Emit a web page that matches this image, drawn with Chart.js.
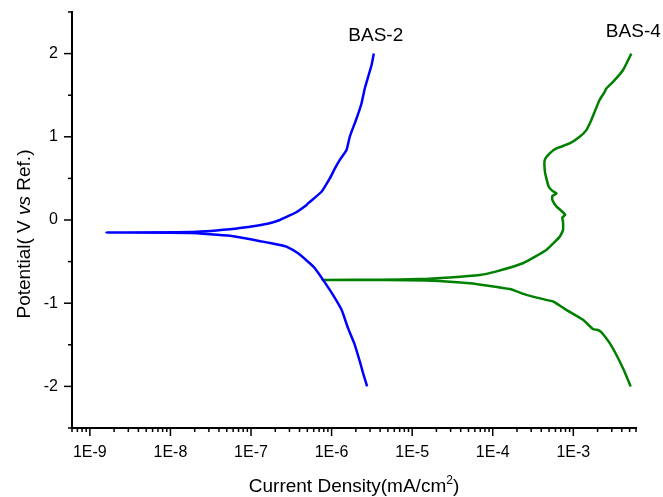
<!DOCTYPE html>
<html>
<head>
<meta charset="utf-8">
<script src="https://cdn.jsdelivr.net/npm/chart.js@4"></script>
<style>
  html, body { margin: 0; padding: 0; background: #fff; }
  #wrap { width: 663px; height: 497px; }
</style>
</head>
<body>
<div id="wrap"><canvas id="c" width="663" height="497"></canvas></div>
<script>
// ---- Data ----
const seriesNames = ['BAS-2', 'BAS-4'];

// BAS-2: cathodic branch (from -2 V upward), corrosion point, anodic branch
const bas2Current = [
  2.76e-6, 2.46e-6, 2.24e-6, 1.94e-6, 1.60e-6, 1.33e-6, 1.04e-6, 7.84e-7, 6.20e-7, 5.36e-7,
  3.84e-7, 2.75e-7, 2.28e-7, 1.40e-7, 5.50e-8, 1.74e-8,
  1.60e-9,
  1.74e-8, 5.50e-8, 9.70e-8, 1.17e-7, 1.70e-7, 2.28e-7, 2.50e-7, 3.60e-7, 4.90e-7, 5.10e-7, 7.50e-7, 9.50e-7,
  1.10e-6, 1.26e-6, 1.53e-6, 1.68e-6, 2.04e-6, 2.35e-6, 2.58e-6, 2.84e-6, 3.13e-6, 3.34e-6
];
const bas2Potential = [
  -2.00, -1.84, -1.70, -1.50, -1.30, -1.08, -0.90, -0.72, -0.58, -0.52,
  -0.40, -0.32, -0.30, -0.26, -0.19, -0.155,
  -0.15,
  -0.145, -0.11, -0.08, -0.07, -0.04, 0.00, 0.02, 0.09, 0.18, 0.20, 0.34, 0.50,
  0.62, 0.72, 0.84, 1.00, 1.22, 1.40, 1.58, 1.72, 1.86, 2.00
];

// BAS-4
const bas4Current = [
  5.15e-3, 4.22e-3, 3.42e-3, 2.83e-3, 2.33e-3, 2.10e-3, 1.95e-3, 1.75e-3, 1.32e-3, 8.20e-4,
  5.90e-4, 5.60e-4, 2.62e-4, 1.63e-4, 5.20e-5, 1.50e-5, 4.00e-6,
  7.70e-7,
  4.00e-6, 1.24e-5, 2.93e-5, 6.90e-5, 1.09e-4, 2.36e-4, 4.63e-4, 6.80e-4, 7.45e-4, 7.45e-4,
  7.30e-4, 7.90e-4, 7.50e-4, 6.20e-4, 5.50e-4, 5.50e-4, 6.20e-4, 5.50e-4, 4.96e-4, 4.63e-4,
  4.42e-4, 4.42e-4, 5.09e-4, 6.16e-4, 9.00e-4, 1.20e-3, 1.45e-3, 1.67e-3, 1.84e-3, 2.11e-3,
  2.45e-3, 2.57e-3, 3.11e-3, 4.13e-3, 5.25e-3
];
const bas4Potential = [
  -2.00, -1.80, -1.62, -1.48, -1.37, -1.33, -1.32, -1.31, -1.20, -1.08,
  -0.99, -0.98, -0.90, -0.83, -0.76, -0.727, -0.722,
  -0.72,
  -0.718, -0.71, -0.69, -0.66, -0.62, -0.52, -0.36, -0.20, -0.12, -0.02,
  0.03, 0.06, 0.09, 0.16, 0.24, 0.29, 0.32, 0.35, 0.40, 0.50,
  0.60, 0.72, 0.80, 0.86, 0.92, 1.00, 1.08, 1.20, 1.30, 1.44,
  1.54, 1.58, 1.66, 1.80, 2.00
];

const xTickValues = [1e-9, 1e-8, 1e-7, 1e-6, 1e-5, 1e-4, 1e-3];
const xTickLabels = ['1E-9', '1E-8', '1E-7', '1E-6', '1E-5', '1E-4', '1E-3'];
const yTickValues = [-2, -1, 0, 1, 2];
const yTickLabels = ['-2', '-1', '0', '1', '2'];

// ---- Chart ----
const FONT = '"Liberation Sans", Arial, sans-serif';

function pts(xs, ys) { return xs.map((v, i) => ({ x: v, y: ys[i] })); }

const whiteBg = {
  id: 'whiteBg',
  beforeDraw(chart) {
    const c = chart.ctx;
    c.save(); c.fillStyle = '#fff'; c.fillRect(0, 0, chart.width, chart.height); c.restore();
  }
};

const labelLift = [13, 17];

const decor = {
  id: 'decor',
  afterDraw(chart) {
    const { ctx, chartArea: a, scales } = chart;
    const x = scales.x, y = scales.y;
    ctx.save();
    ctx.strokeStyle = '#000';
    ctx.lineWidth = 1.5;
    // x tick marks (major + minor, log)
    for (let e = -10; e <= -3; e++) {
      for (let m = 1; m <= 9; m++) {
        const v = m * Math.pow(10, e);
        if (v < x.min * 0.9999 || v > x.max * 1.0001) continue;
        const px = x.getPixelForValue(v);
        const len = m === 1 ? 8 : 4;
        ctx.beginPath(); ctx.moveTo(px, a.bottom); ctx.lineTo(px, a.bottom + len); ctx.stroke();
      }
    }
    // y tick marks
    for (let v = -2.5; v <= 2.5001; v += 0.5) {
      const py = y.getPixelForValue(v);
      const major = Math.abs(v - Math.round(v)) < 1e-6;
      const len = major ? 8 : 4;
      ctx.beginPath(); ctx.moveTo(a.left, py); ctx.lineTo(a.left - len, py); ctx.stroke();
    }

    ctx.fillStyle = '#000';
    // series labels near the end of each curve
    chart.data.datasets.forEach((ds, i) => {
      const meta = chart.getDatasetMeta(i);
      const last = meta.data[meta.data.length - 1];
      ctx.font = '19px ' + FONT;
      ctx.textAlign = 'center';
      ctx.textBaseline = 'alphabetic';
      ctx.fillText(ds.label, last.x + 2, last.y - labelLift[i]);
    });

    // x axis title with superscript
    ctx.textAlign = 'left';
    ctx.textBaseline = 'alphabetic';
    const t1 = 'Current Density(mA/cm', sup = '2', t2 = ')';
    ctx.font = '19px ' + FONT;
    const w1 = ctx.measureText(t1).width, w3 = ctx.measureText(t2).width;
    ctx.font = '12px ' + FONT;
    const w2 = ctx.measureText(sup).width;
    const cx = (a.left + a.right) / 2;
    let sx = cx - (w1 + w2 + w3) / 2;
    const base = 492;
    ctx.font = '19px ' + FONT; ctx.fillText(t1, sx, base); sx += w1;
    ctx.font = '12px ' + FONT; ctx.fillText(sup, sx, base - 8); sx += w2;
    ctx.font = '19px ' + FONT; ctx.fillText(t2, sx, base);

    // y axis title with italic "vs"
    const parts = [['Potential( V ', ''], ['vs', 'italic '], [' Ref.)', '']];
    let total = 0;
    parts.forEach(p => { ctx.font = p[1] + '19px ' + FONT; p.push(ctx.measureText(p[0]).width); total += p[2]; });
    ctx.translate(30, 234);
    ctx.rotate(-Math.PI / 2);
    let ox = -total / 2;
    parts.forEach(p => { ctx.font = p[1] + '19px ' + FONT; ctx.fillText(p[0], ox, 0); ox += p[2]; });
    ctx.restore();
  }
};

new Chart(document.getElementById('c'), {
  type: 'scatter',
  data: {
    datasets: [
      { label: seriesNames[0], data: pts(bas2Current, bas2Potential), showLine: true, borderColor: '#0000ff', backgroundColor: '#0000ff', borderWidth: 2.5, pointRadius: 0, tension: 0.15 },
      { label: seriesNames[1], data: pts(bas4Current, bas4Potential), showLine: true, borderColor: '#008000', backgroundColor: '#008000', borderWidth: 2.5, pointRadius: 0, tension: 0.15 }
    ]
  },
  options: {
    responsive: false,
    devicePixelRatio: 1,
    animation: false,
    layout: { padding: { top: 12, right: 27, left: 0, bottom: 0 } },
    plugins: { legend: { display: false }, tooltip: { enabled: false } },
    scales: {
      x: {
        type: 'logarithmic',
        position: 'bottom',
        min: 6e-10,
        max: 6e-3,
        grid: { display: true, drawOnChartArea: false, drawTicks: false },
        border: { display: true, color: '#000', width: 2 },
        afterBuildTicks(scale) { scale.ticks = xTickValues.map(v => ({ value: v })); },
        afterFit(scale) { scale.height = 69; scale.paddingLeft = 0; scale.paddingRight = 0; },
        ticks: {
          autoSkip: false, maxRotation: 0, color: '#000', padding: 15,
          font: { family: FONT, size: 16 },
          callback: (v) => { const i = xTickValues.findIndex(t => Math.abs(t - v) / t < 1e-6); return i >= 0 ? xTickLabels[i] : ''; }
        }
      },
      y: {
        type: 'linear',
        position: 'left',
        min: -2.5,
        max: 2.5,
        grid: { display: true, drawOnChartArea: false, drawTicks: false },
        border: { display: true, color: '#000', width: 2 },
        afterBuildTicks(scale) { scale.ticks = yTickValues.map(v => ({ value: v })); },
        afterFit(scale) { scale.width = 72; scale.paddingTop = 0; scale.paddingBottom = 0; },
        ticks: {
          color: '#000', padding: 14,
          font: { family: FONT, size: 16 },
          callback: (v) => { const i = yTickValues.indexOf(v); return i >= 0 ? yTickLabels[i] : ''; }
        }
      }
    }
  },
  plugins: [whiteBg, decor]
});
</script>
</body>
</html>
